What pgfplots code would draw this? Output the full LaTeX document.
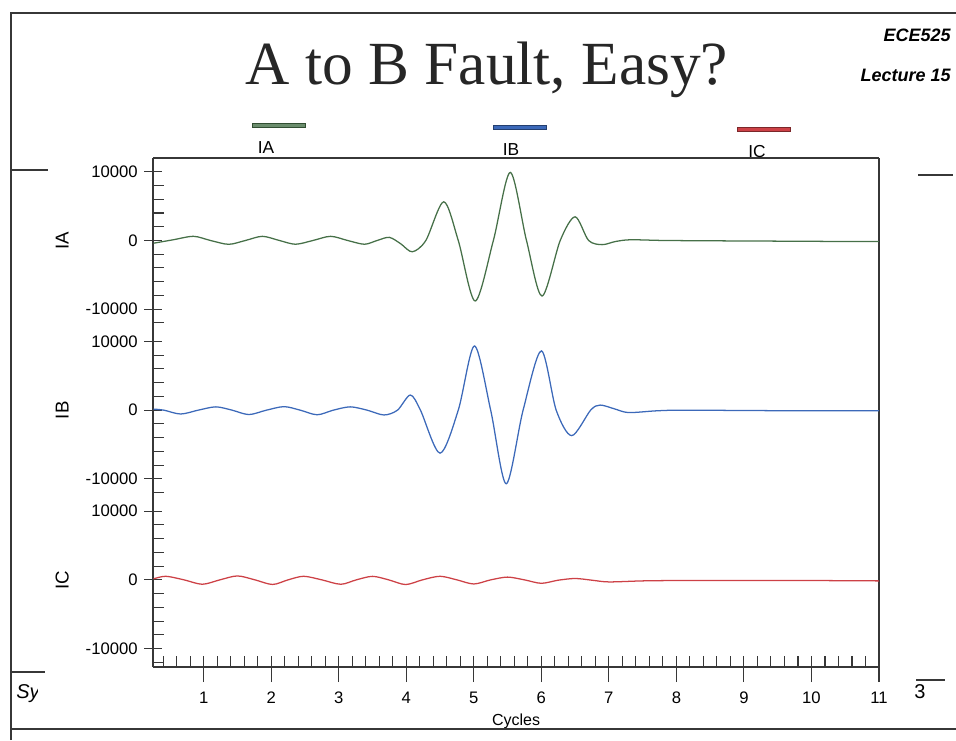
\documentclass[border=0pt]{standalone}
\usepackage{fontspec}
\setmainfont{Liberation Sans}
\newfontfamily\serifttl{Liberation Serif}
\usepackage{pgfplots}
\pgfplotsset{compat=1.18}

\definecolor{cA}{RGB}{70,112,72}
\definecolor{cB}{RGB}{60,105,185}
\definecolor{cC}{RGB}{205,65,70}
\definecolor{frame}{RGB}{55,55,55}

\pgfplotsset{
  panel/.style={
    anchor=north west, scale only axis,
    width=544.5pt, height=127.275pt,
    xmin=0.25, xmax=11, ymin=-12700, ymax=12000,
    axis y line*=box, ytick pos=left,
    scaled y ticks=false,
    ytick={-10000,0,10000}, yticklabels={-10000,0,10000},
    minor ytick={-12000,-8000,-6000,-4000,-2000,2000,4000,6000,8000},
    tick align=inside,
    major tick length=13.5pt, minor tick length=8pt,
    major y tick style={xshift=-6.75pt},
    tick style={line width=0.8pt, frame},
    axis line style={line width=1pt, frame},
    yticklabel style={font=\fontsize{12.5}{14}\selectfont, xshift=-8pt},
    ylabel style={font=\fontsize{14}{16}\selectfont, at={(axis description cs:-0.125,0.514)}, anchor=center, rotate=0},
  },
  curve/.style={line width=0.95pt, smooth, mark=none},
}

\begin{document}
\begin{tikzpicture}
\useasboundingbox (0,0) rectangle (717pt,-555pt);

% IA
\begin{axis}[panel, at={(114.75pt,-118.5pt)}, axis x line*=top, xtick=\empty, ylabel={IA}]
\addplot[curve, cA] coordinates {
(0.26,-400) (0.55,100) (0.85,600) (1.10,0) (1.37,-560) (1.62,0) (1.87,600) (2.12,0)
(2.36,-550) (2.62,0) (2.88,600) (3.13,0) (3.38,-550) (3.57,0) (3.75,450) (3.92,-500)
(4.09,-1650) (4.29,0) (4.555,5630) (4.77,0) (5.02,-8810) (5.29,0) (5.54,9900) (5.78,0)
(6.01,-8090) (6.28,0) (6.50,3440) (6.70,0) (6.90,-610) (7.10,-150) (7.32,100) (7.8,0)
(8.5,-50) (9.5,-100) (10.5,-150) (11,-150)
};
\end{axis}

% IB
\begin{axis}[panel, at={(114.75pt,-245.775pt)}, axis x line=none, xtick=\empty, ylabel={IB}]
\addplot[curve, cB] coordinates {
(0.26,150) (0.41,0) (0.66,-560) (0.92,0) (1.18,480) (1.42,0) (1.67,-640) (1.93,0)
(2.19,510) (2.43,0) (2.68,-670) (2.92,0) (3.17,480) (3.42,0) (3.67,-700) (3.87,0)
(4.06,2200) (4.21,0) (4.50,-6260) (4.77,0) (5.01,9340) (5.25,0) (5.48,-10710) (5.73,0)
(6.00,8630) (6.22,0) (6.45,-3710) (6.73,0) (6.87,740) (7.08,200) (7.29,-350) (7.7,-100)
(8.06,0) (9,-50) (10,-100) (11,-100)
};
\end{axis}

% IC
\begin{axis}[panel, at={(114.75pt,-373.05pt)}, axis x line*=bottom,
  xtick=\empty,
  extra x ticks={1,2,3,4,5,6,7,8,9,10,11},
  extra x tick labels={1,2,3,4,5,6,7,8,9,10,11},
  extra tick style={tick align=outside, major tick length=11.25pt},
  xticklabel style={font=\fontsize{12.5}{14}\selectfont, yshift=-4pt},
  xlabel={Cycles},
  xlabel style={font=\fontsize{12}{14}\selectfont, at={(axis description cs:0.5,0)}, anchor=base, yshift=-43.5pt},
  ylabel={IC}]
\addplot[curve, cC] coordinates {
(0.26,150) (0.44,520) (0.71,0) (0.98,-640) (1.24,0) (1.50,570) (1.76,0) (2.02,-670)
(2.25,0) (2.48,520) (2.75,0) (3.03,-640) (3.26,0) (3.50,510) (3.74,0) (3.99,-680)
(4.24,0) (4.50,520) (4.75,0) (5.00,-600) (5.25,0) (5.50,400) (5.75,0) (6.00,-500)
(6.25,-50) (6.50,200) (6.75,-50) (7.00,-300) (7.5,-150) (8,-100) (9,-100) (10,-100)
(11,-150)
};
\end{axis}

% small x ticks every 0.2 cycle, pointing up from the bottom line
\begin{axis}[anchor=north west, scale only axis, at={(114.75pt,-373.05pt)},
  width=544.5pt, height=127.275pt,
  xmin=0.25, xmax=11, ymin=-12700, ymax=12000,
  hide y axis, axis x line*=bottom,
  xtick={0.4,0.6,...,10.9}, xticklabels=\empty,
  tick align=inside, major tick length=8pt,
  tick style={line width=0.8pt, frame},
  axis line style={line width=1pt, frame}]
\end{axis}

\begin{scope}[x=0.75pt, y=-0.75pt]
  % slide frame pieces
  \draw[line width=2pt, frame] (11,740) -- (11,13) -- (960,13);
  \draw[line width=1.8pt, frame] (11,729) -- (960,729);
  \draw[line width=1pt, frame] (11,170) -- (48,170);
  \draw[line width=1pt, frame] (11,672) -- (45,672);
  \draw[line width=1pt, frame] (918,175) -- (953,175);
  \draw[line width=1pt, frame] (916,680) -- (945,680);
  \begin{scope}
    \clip (12,670) rectangle (37,715);
    \node[anchor=base west, inner sep=0pt] at (16,698) {\itshape\fontsize{15}{18}\selectfont Sy};
  \end{scope}
  \node[anchor=base west, inner sep=0pt] at (914,698) {\fontsize{15}{18}\selectfont 3};
  % title
  \node[anchor=base, inner sep=0pt, text=black!85] at (487,84) {\serifttl\fontsize{46}{50}\selectfont A to B Fault, Easy?};
  \node[anchor=base east, inner sep=0pt] at (951,41) {\bfseries\itshape\fontsize{13.5}{16}\selectfont ECE525};
  \node[anchor=base east, inner sep=0pt] at (951,81) {\bfseries\itshape\fontsize{13.5}{16}\selectfont Lecture 15};
  % legend
  \draw[line width=0.7pt, draw=cA!70!black, fill=cA!80!white] (252,123) rectangle (305,127.5);
  \draw[line width=0.7pt, draw=cB!60!black, fill=cB] (493,125) rectangle (546,129.5);
  \draw[line width=0.7pt, draw=cC!60!black, fill=cC] (737,127) rectangle (790,131.5);
  \node[font=\fontsize{13}{15}\selectfont] at (266,148) {IA};
  \node[font=\fontsize{13}{15}\selectfont] at (511,150) {IB};
  \node[font=\fontsize{13}{15}\selectfont] at (757,152) {IC};
\end{scope}
\end{tikzpicture}
\end{document}
